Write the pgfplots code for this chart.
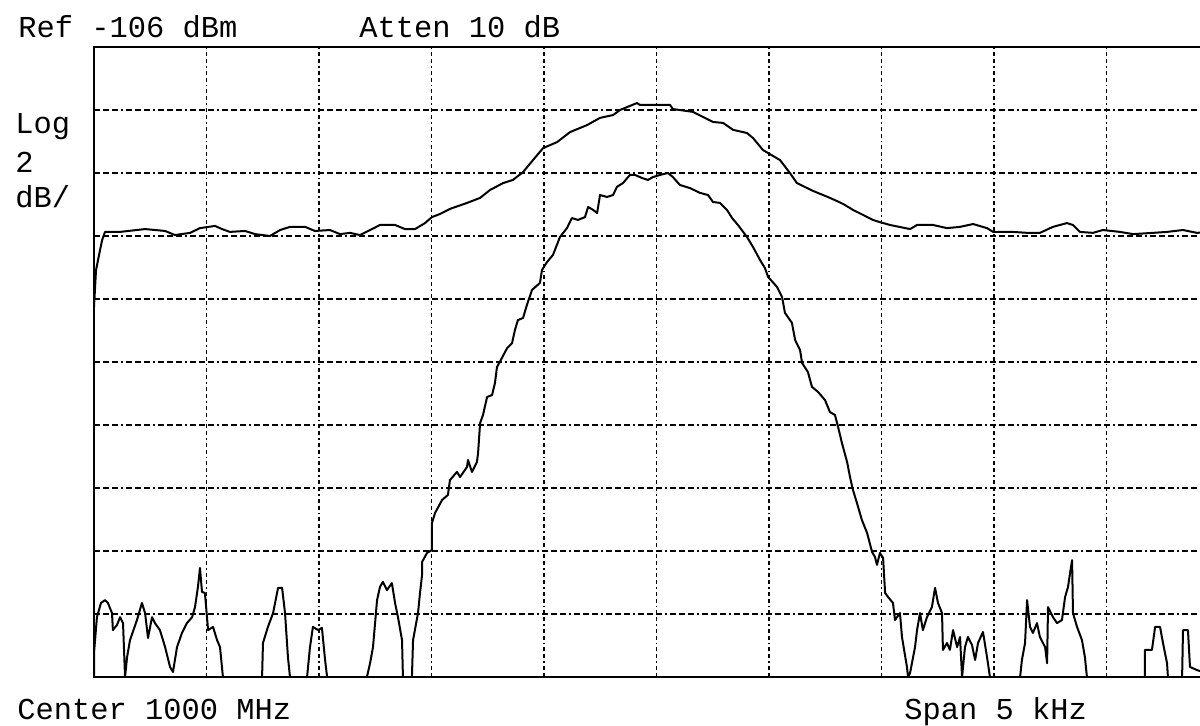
\documentclass[border=0pt]{standalone}
\usepackage{fontspec}
\setmainfont{Liberation Mono}
\usepackage{pgfplots}
\pgfplotsset{compat=1.18}

% Screen readout: 1 screen pixel = 0.5pt
\newcommand\scr{\fontsize{15.2pt}{18pt}\selectfont}

\begin{document}
\begin{tikzpicture}
\useasboundingbox (0,0) rectangle (600pt,362.5pt);
\clip (0,0) rectangle (600pt,362.5pt);

\begin{axis}[
  at={(47pt,24pt)}, anchor=south west,
  scale only axis, width=562.5pt, height=315pt,
  xmin=-2.5, xmax=2.5, ymin=-126, ymax=-106,
  xtick=\empty, ytick=\empty,
  axis line style={line width=1.2pt},
  clip=true,
]
% graticule: 10 x 10 divisions, 0.5 kHz/div and 2 dB/div
\pgfplotsinvokeforeach{-2,-1.5,-1,-0.5,0,0.5,1,1.5,2}{
  \draw[line width=0.9pt, dash pattern=on 2pt off 1.5pt on 2pt off 1.5pt on 0.8pt off 1.5pt]
    (axis cs:#1,-126) -- (axis cs:#1,-106);
}
\pgfplotsinvokeforeach{-124,-122,-120,-118,-116,-114,-112,-110,-108}{
  \draw[line width=0.9pt, dash pattern=on 3pt off 1.5pt on 3pt off 1.5pt on 3pt off 1.5pt on 1pt off 1.5pt]
    (axis cs:-2.5,#1) -- (axis cs:2.5,#1);
}

% wide trace
\addplot[black, line width=1pt, sharp plot, line join=round] coordinates {
(-2.500,-114.25) (-2.491,-113.08) (-2.473,-112.44) (-2.464,-112.13) (-2.451,-111.87)
(-2.384,-111.87) (-2.273,-111.78) (-2.184,-111.84) (-2.140,-111.97) (-2.073,-111.90)
(-2.029,-111.75) (-1.962,-111.68) (-1.931,-111.78) (-1.896,-111.87) (-1.829,-111.84)
(-1.784,-111.94) (-1.718,-112.00) (-1.673,-111.81) (-1.629,-111.71) (-1.562,-111.71)
(-1.518,-111.84) (-1.451,-111.81) (-1.407,-111.94) (-1.362,-111.90) (-1.318,-111.97)
(-1.273,-111.81) (-1.229,-111.65) (-1.162,-111.65) (-1.118,-111.78) (-1.073,-111.78)
(-1.029,-111.59) (-0.998,-111.40) (-0.962,-111.30) (-0.918,-111.14) (-0.842,-110.95)
(-0.784,-110.79) (-0.740,-110.54) (-0.682,-110.32) (-0.638,-110.22) (-0.593,-109.97)
(-0.549,-109.59) (-0.504,-109.21) (-0.442,-109.02) (-0.384,-108.70) (-0.309,-108.48)
(-0.251,-108.25) (-0.193,-108.16) (-0.162,-108.00) (-0.118,-107.87) (-0.087,-107.78)
(-0.073,-107.84) (-0.016,-107.84) (0.060,-107.84) (0.073,-107.97) (0.162,-108.06)
(0.207,-108.22) (0.251,-108.38) (0.296,-108.41) (0.340,-108.63) (0.402,-108.73)
(0.429,-108.89) (0.473,-109.27) (0.549,-109.59) (0.593,-110.00) (0.624,-110.32)
(0.696,-110.57) (0.771,-110.79) (0.829,-110.98) (0.873,-111.17) (0.918,-111.33)
(0.962,-111.49) (0.993,-111.56) (1.038,-111.65) (1.127,-111.78) (1.158,-111.65)
(1.229,-111.65) (1.291,-111.75) (1.349,-111.71) (1.407,-111.62) (1.469,-111.75)
(1.496,-111.87) (1.584,-111.87) (1.647,-111.90) (1.704,-111.90) (1.762,-111.71)
(1.824,-111.59) (1.851,-111.65) (1.882,-111.87) (1.940,-111.90) (1.984,-111.81)
(2.060,-111.87) (2.118,-111.94) (2.207,-111.90) (2.269,-111.87) (2.340,-111.81)
(2.402,-111.90) (2.500,-111.85)
};

% narrow trace with noise floor
\addplot[black, line width=1pt, sharp plot, line join=round] coordinates {
(-2.500,-126.00) (-2.500,-125.24) (-2.487,-124.10) (-2.469,-123.65) (-2.451,-123.56)
(-2.438,-123.65) (-2.420,-123.97) (-2.416,-124.51) (-2.398,-124.35) (-2.384,-124.10)
(-2.371,-124.29) (-2.362,-126.00) (-2.353,-125.37) (-2.340,-124.83) (-2.309,-124.19)
(-2.287,-123.65) (-2.273,-123.97) (-2.260,-124.76) (-2.242,-124.10) (-2.229,-124.29)
(-2.207,-124.51) (-2.184,-125.05) (-2.162,-125.68) (-2.149,-125.84) (-2.131,-125.05)
(-2.109,-124.60) (-2.087,-124.29) (-2.064,-124.10) (-2.051,-123.78) (-2.038,-123.14)
(-2.029,-122.54) (-2.020,-123.30) (-2.007,-123.33) (-1.993,-124.51) (-1.971,-124.41)
(-1.953,-124.83) (-1.940,-125.05) (-1.927,-126.00) (-1.753,-126.00) (-1.749,-124.92)
(-1.727,-124.41) (-1.704,-123.97) (-1.682,-123.17) (-1.664,-123.17) (-1.651,-123.97)
(-1.638,-125.37) (-1.629,-126.00) (-1.553,-126.00) (-1.540,-125.05) (-1.527,-124.41)
(-1.504,-124.51) (-1.487,-124.44) (-1.473,-125.46) (-1.464,-126.00) (-1.287,-126.00)
(-1.273,-125.56) (-1.260,-125.05) (-1.242,-123.56) (-1.229,-123.14) (-1.216,-122.98)
(-1.198,-123.24) (-1.176,-123.02) (-1.162,-123.65) (-1.149,-124.10) (-1.131,-124.83)
(-1.127,-126.00) (-1.087,-126.00) (-1.082,-124.83) (-1.060,-123.97) (-1.051,-123.33)
(-1.042,-122.76) (-1.042,-122.35) (-1.020,-122.06) (-0.998,-121.97) (-0.998,-121.11)
(-0.984,-120.79) (-0.953,-120.38) (-0.927,-120.22) (-0.918,-119.75) (-0.887,-119.49)
(-0.873,-119.65) (-0.842,-119.33) (-0.838,-119.11) (-0.820,-119.49) (-0.798,-119.17)
(-0.793,-118.89) (-0.784,-117.94) (-0.771,-117.68) (-0.753,-117.11) (-0.731,-117.05)
(-0.718,-116.67) (-0.709,-116.16) (-0.687,-115.87) (-0.664,-115.56) (-0.642,-115.40)
(-0.629,-114.98) (-0.616,-114.67) (-0.593,-114.60) (-0.576,-114.19) (-0.553,-113.71)
(-0.518,-113.49) (-0.509,-113.08) (-0.487,-112.83) (-0.460,-112.60) (-0.429,-112.03)
(-0.398,-111.75) (-0.376,-111.43) (-0.349,-111.49) (-0.318,-111.40) (-0.304,-111.08)
(-0.282,-111.17) (-0.264,-111.27) (-0.251,-110.70) (-0.220,-110.76) (-0.193,-110.70)
(-0.176,-110.44) (-0.149,-110.32) (-0.118,-110.06) (-0.096,-110.06) (-0.064,-110.16)
(-0.038,-110.22) (-0.016,-110.13) (0.016,-110.06) (0.051,-110.00) (0.073,-110.13)
(0.104,-110.38) (0.149,-110.48) (0.193,-110.63) (0.229,-110.70) (0.251,-110.92)
(0.282,-110.95) (0.313,-111.17) (0.336,-111.43) (0.362,-111.65) (0.402,-112.03)
(0.429,-112.35) (0.460,-112.76) (0.482,-113.02) (0.496,-113.30) (0.536,-113.62)
(0.558,-113.94) (0.571,-114.44) (0.602,-114.76) (0.616,-115.30) (0.638,-115.62)
(0.647,-116.03) (0.673,-116.32) (0.691,-116.79) (0.718,-116.95) (0.749,-117.21)
(0.771,-117.59) (0.793,-117.68) (0.807,-118.06) (0.824,-118.57) (0.847,-119.17)
(0.860,-119.65) (0.873,-120.06) (0.891,-120.48) (0.913,-121.02) (0.936,-121.43)
(0.958,-122.03) (0.971,-122.19) (0.980,-122.44) (0.993,-122.06) (1.007,-122.22)
(1.016,-123.33) (1.029,-123.46) (1.051,-123.65) (1.060,-124.19) (1.082,-123.97)
(1.091,-124.73) (1.113,-125.68) (1.118,-126.00) (1.127,-125.87) (1.149,-125.05)
(1.158,-124.51) (1.171,-123.97) (1.184,-124.51) (1.202,-124.10) (1.224,-123.78)
(1.238,-123.17) (1.251,-123.65) (1.269,-123.97) (1.273,-125.14) (1.291,-124.92)
(1.304,-125.14) (1.318,-124.51) (1.336,-125.05) (1.349,-124.73) (1.358,-126.00)
(1.371,-125.05) (1.384,-124.73) (1.402,-124.98) (1.416,-125.46) (1.429,-124.92)
(1.451,-124.57) (1.469,-125.37) (1.482,-126.00) (1.616,-126.00) (1.624,-125.46)
(1.638,-124.92) (1.647,-123.56) (1.660,-124.41) (1.673,-124.60) (1.691,-124.29)
(1.704,-124.73) (1.727,-125.05) (1.736,-125.56) (1.740,-123.78) (1.762,-124.10)
(1.780,-124.29) (1.802,-124.19) (1.816,-123.46) (1.829,-123.14) (1.838,-122.70)
(1.847,-122.29) (1.851,-123.97) (1.869,-124.41) (1.891,-124.83) (1.904,-125.37)
(1.913,-126.00) (2.171,-126.00) (2.171,-125.14) (2.202,-125.14) (2.216,-124.41)
(2.238,-124.41) (2.251,-124.92) (2.269,-125.56) (2.273,-126.00) (2.336,-126.00)
(2.340,-124.51) (2.362,-124.51) (2.371,-125.68) (2.402,-125.78) (2.500,-126.00)
};
\end{axis}

% annotation readouts
\scr
\node[anchor=base west, inner sep=0] at (9pt,343.5pt) {Ref -106 dBm};
\node[anchor=base west, inner sep=0] at (179.5pt,343.5pt) {Atten 10 dB};
\node[anchor=base west, inner sep=0] at (7.5pt,296pt) {Log};
\node[anchor=base west, inner sep=0] at (7.5pt,276.5pt) {2};
\node[anchor=base west, inner sep=0] at (7.5pt,259pt) {dB/};
\node[anchor=base west, inner sep=0] at (8.5pt,3pt) {Center 1000 MHz};
\node[anchor=base west, inner sep=0] at (452pt,3pt) {Span 5 kHz};
\end{tikzpicture}
\end{document}
